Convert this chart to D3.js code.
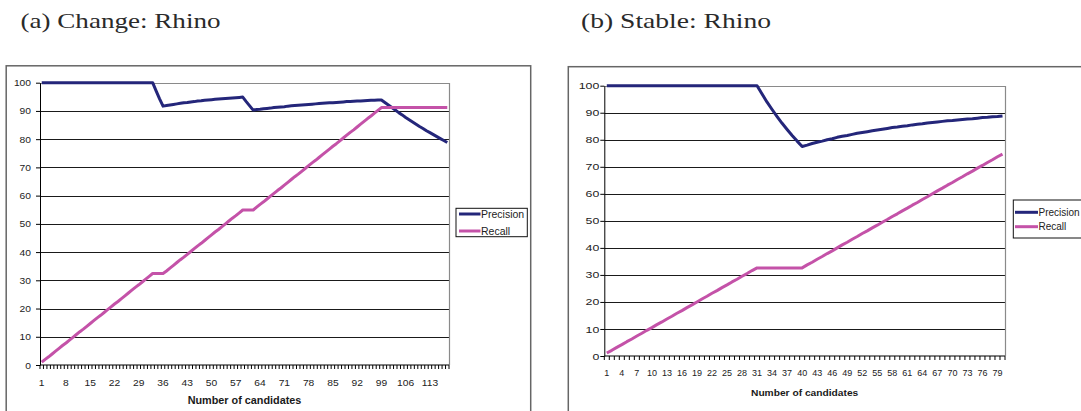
<!DOCTYPE html>
<html>
<head>
<meta charset="utf-8">
<script src="https://cdn.jsdelivr.net/npm/d3@7"></script>
<style>
  body { margin: 0; background: #fff; }
  svg { display: block; }
</style>
</head>
<body>
<svg id="fig" width="1081" height="411"></svg>
<script>
// (a) Change: Rhino — precision / recall (%) per number of candidates
const changePrecision = [
  100, 100, 100, 100, 100, 100, 100, 100, 100, 100, 100,
  100, 100, 100, 100, 100, 100, 100, 100, 100, 100, 100,
  100, 100, 100, 100, 100, 100, 100, 100, 100, 100, 100,
  97.1, 94.3, 91.7,
  91.9, 92.1, 92.3, 92.5, 92.7, 92.9, 93.0, 93.2, 93.3, 93.5, 93.6, 93.8,
  93.9, 94.0, 94.1, 94.2, 94.3, 94.4, 94.5, 94.6, 94.7, 94.8, 94.9,
  93.3, 91.8, 90.3,
  90.5, 90.6, 90.8, 90.9, 91.0, 91.2, 91.3, 91.4, 91.5, 91.7, 91.8, 91.9,
  92.0, 92.1, 92.2, 92.3, 92.4, 92.5, 92.6, 92.7, 92.8, 92.9, 92.9, 93.0,
  93.1, 93.2, 93.3, 93.3, 93.4, 93.5, 93.5, 93.6, 93.7, 93.8, 93.8, 93.9, 93.9,
  93.0, 92.1, 91.2, 90.3, 89.4, 88.6, 87.7, 86.9, 86.1, 85.3,
  84.5, 83.8, 83.0, 82.3, 81.6, 80.9, 80.2, 79.5, 78.8
];
const changeRecall = [
  1.0, 2.0, 2.9, 3.9, 4.9, 5.9, 6.9, 7.8, 8.8, 9.8, 10.8,
  11.8, 12.7, 13.7, 14.7, 15.7, 16.7, 17.6, 18.6, 19.6, 20.6, 21.6,
  22.5, 23.5, 24.5, 25.5, 26.5, 27.5, 28.4, 29.4, 30.4, 31.4, 32.4,
  32.4, 32.4, 32.4,
  33.3, 34.3, 35.3, 36.3, 37.3, 38.2, 39.2, 40.2, 41.2, 42.2, 43.1, 44.1,
  45.1, 46.1, 47.1, 48.0, 49.0, 50.0, 51.0, 52.0, 52.9, 53.9, 54.9,
  54.9, 54.9, 54.9,
  55.9, 56.9, 57.8, 58.8, 59.8, 60.8, 61.8, 62.7, 63.7, 64.7, 65.7, 66.7,
  67.6, 68.6, 69.6, 70.6, 71.6, 72.5, 73.5, 74.5, 75.5, 76.5, 77.5, 78.4,
  79.4, 80.4, 81.4, 82.4, 83.3, 84.3, 85.3, 86.3, 87.3, 88.2, 89.2, 90.2, 91.2,
  91.2, 91.2, 91.2, 91.2, 91.2, 91.2, 91.2, 91.2, 91.2, 91.2,
  91.2, 91.2, 91.2, 91.2, 91.2, 91.2, 91.2, 91.2, 91.2
];
const changeTickLabels = [1, 8, 15, 22, 29, 36, 43, 50, 57, 64, 71, 78, 85, 92, 99, 106, 113];

// (b) Stable: Rhino
const stablePrecision = [
  100, 100, 100, 100, 100, 100, 100, 100, 100, 100,
  100, 100, 100, 100, 100, 100, 100, 100, 100, 100,
  100, 100, 100, 100, 100, 100, 100, 100, 100, 100, 100,
  96.9, 93.9, 91.2, 88.6, 86.1, 83.8, 81.6, 79.5, 77.5,
  78.0, 78.6, 79.1, 79.5, 80.0, 80.4, 80.9, 81.3, 81.6, 82.0,
  82.4, 82.7, 83.0, 83.3, 83.6, 83.9, 84.2, 84.5, 84.7, 85.0,
  85.2, 85.5, 85.7, 85.9, 86.2, 86.4, 86.6, 86.8, 87.0, 87.1,
  87.3, 87.5, 87.7, 87.8, 88.0, 88.2, 88.3, 88.5, 88.6, 88.8
];
const stableRecall = [
  1.1, 2.1, 3.2, 4.2, 5.3, 6.3, 7.4, 8.4, 9.5, 10.5,
  11.6, 12.6, 13.7, 14.7, 15.8, 16.8, 17.9, 18.9, 20.0, 21.1,
  22.1, 23.2, 24.2, 25.3, 26.3, 27.4, 28.4, 29.5, 30.5, 31.6, 32.6,
  32.6, 32.6, 32.6, 32.6, 32.6, 32.6, 32.6, 32.6, 32.6,
  33.7, 34.7, 35.8, 36.8, 37.9, 38.9, 40.0, 41.1, 42.1, 43.2,
  44.2, 45.3, 46.3, 47.4, 48.4, 49.5, 50.5, 51.6, 52.6, 53.7,
  54.7, 55.8, 56.8, 57.9, 58.9, 60.0, 61.1, 62.1, 63.2, 64.2,
  65.3, 66.3, 67.4, 68.4, 69.5, 70.5, 71.6, 72.6, 73.7, 74.7
];
const stableTickLabels = [1, 4, 7, 10, 13, 16, 19, 22, 25, 28, 31, 34, 37, 40, 43, 46, 49, 52, 55, 58, 61, 64, 67, 70, 73, 76, 79];

const yTicks = [0, 10, 20, 30, 40, 50, 60, 70, 80, 90, 100];
const seriesNames = ["Precision", "Recall"];
const seriesColors = ["#24267a", "#c452a8"];
const xAxisTitle = "Number of candidates";

const SANS = "'Liberation Sans', Arial, sans-serif";
const SERIF = "'Liberation Serif', 'Times New Roman', serif";
const svg = d3.select("#fig");

// widen rendered text by factor k (the chart glyphs are set slightly wide)
function widen(sel, k) {
  sel.each(function () {
    const w = this.getComputedTextLength();
    if (w > 0 && k !== 1) {
      this.setAttribute("textLength", (w * k).toFixed(2));
      this.setAttribute("lengthAdjust", "spacingAndGlyphs");
    }
  });
}

function drawPanel(o) {
  const g = svg.append("g");

  // chart frame
  g.append("rect")
    .attr("x", o.frame.x).attr("y", o.frame.y)
    .attr("width", o.frame.w).attr("height", o.frame.h)
    .attr("fill", "#fff").attr("stroke", "#666").attr("stroke-width", 1.5);

  // sub-figure caption
  svg.append("text")
    .attr("x", o.caption.x).attr("y", o.caption.y)
    .attr("font-family", SERIF).attr("font-size", 22).attr("fill", "#2a2a2a")
    .attr("textLength", o.caption.len).attr("lengthAdjust", "spacingAndGlyphs")
    .text(o.caption.text);

  const categories = o.precision.map((_, i) => i + 1);
  const x = d3.scaleBand().domain(categories).range([o.plot.l, o.plot.r]).padding(0);
  const cx = c => x(c) + x.bandwidth() / 2;
  const y = d3.scaleLinear().domain([0, 100]).range([o.plot.b, o.plot.t]);

  // horizontal gridlines
  g.append("g").selectAll("line")
    .data(yTicks.filter(v => v > 0 && v < 100))
    .join("line")
    .attr("x1", o.plot.l).attr("x2", o.plot.r)
    .attr("y1", d => Math.round(y(d)) + 0.5).attr("y2", d => Math.round(y(d)) + 0.5)
    .attr("stroke", "#1a1a1a").attr("stroke-width", 1);

  // plot-area border (top and right)
  g.append("path")
    .attr("d", `M${o.plot.l},${Math.round(o.plot.t) + 0.5}H${Math.round(o.plot.r) + 0.5}V${o.plot.b}`)
    .attr("fill", "none").attr("stroke", "#8a8a8a").attr("stroke-width", 1.2);

  // value axis
  const yAxisG = g.append("g")
    .attr("transform", `translate(${o.plot.l},0)`)
    .call(d3.axisLeft(y).tickValues(yTicks).tickSize(4).tickSizeOuter(0).tickPadding(o.yPad));
  yAxisG.select(".domain").attr("stroke", "#000");
  yAxisG.selectAll(".tick line").attr("stroke", "#000");
  yAxisG.selectAll("text")
    .attr("font-family", SANS).attr("font-size", o.yFont).attr("fill", "#222");
  widen(yAxisG.selectAll("text"), o.yStretch);

  // category axis: minor ticks at every category boundary
  const bounds = categories.map(c => x(c)).concat([o.plot.r]);
  g.append("g").selectAll("line")
    .data(bounds)
    .join("line")
    .attr("x1", d => d).attr("x2", d => d)
    .attr("y1", o.plot.b).attr("y2", o.plot.b + 4)
    .attr("stroke", "#000").attr("stroke-width", 1);
  g.append("line")
    .attr("x1", o.plot.l).attr("x2", o.plot.r)
    .attr("y1", o.plot.b).attr("y2", o.plot.b)
    .attr("stroke", "#000").attr("stroke-width", 1.2);

  // category labels
  const xl = g.append("g").selectAll("text")
    .data(o.tickLabels)
    .join("text")
    .attr("x", d => cx(d)).attr("y", o.plot.b + o.xLabelDy)
    .attr("text-anchor", "middle")
    .attr("font-family", SANS).attr("font-size", o.xFont).attr("fill", "#222")
    .text(d => d);
  widen(xl, o.xStretch);

  // axis title
  g.append("text")
    .attr("x", (o.plot.l + o.plot.r) / 2).attr("y", o.title.y)
    .attr("text-anchor", "middle")
    .attr("font-family", SANS).attr("font-size", o.title.size).attr("font-weight", "bold")
    .attr("fill", "#1a1a1a")
    .attr("textLength", o.title.len).attr("lengthAdjust", "spacingAndGlyphs")
    .text(xAxisTitle);

  // series lines
  const line = d3.line().x((d, i) => cx(categories[i])).y(d => y(d));
  [o.precision, o.recall].forEach((vals, s) => {
    g.append("path")
      .datum(vals)
      .attr("d", line)
      .attr("fill", "none")
      .attr("stroke", seriesColors[s])
      .attr("stroke-width", 3)
      .attr("stroke-linejoin", "round");
  });

  // legend
  const L = o.legend;
  const lg = g.append("g");
  lg.append("rect")
    .attr("x", L.x).attr("y", L.y).attr("width", L.w).attr("height", L.h)
    .attr("fill", "#fff").attr("stroke", "#111").attr("stroke-width", 1);
  seriesNames.forEach((name, s) => {
    const ry = L.rows[s];
    lg.append("line")
      .attr("x1", L.lineX1).attr("x2", L.lineX2)
      .attr("y1", ry).attr("y2", ry)
      .attr("stroke", seriesColors[s]).attr("stroke-width", 3);
    lg.append("text")
      .attr("x", L.textX).attr("y", ry + L.font * 0.36)
      .attr("font-family", SANS).attr("font-size", L.font).attr("fill", "#222")
      .text(name);
  });
}

drawPanel({
  precision: changePrecision,
  recall: changeRecall,
  tickLabels: changeTickLabels,
  frame: { x: 6.2, y: 65.8, w: 524.5, h: 360 },
  caption: { text: "(a) Change: Rhino", x: 20.5, y: 28, len: 200 },
  plot: { l: 40, r: 449, t: 82.7, b: 365 },
  yFont: 9.5, yStretch: 1.08, yPad: 5,
  xFont: 9.5, xStretch: 1.08, xLabelDy: 20.5,
  title: { y: 404.4, size: 10.5, len: 113.7 },
  legend: { x: 456, y: 208.3, w: 71.3, h: 28.4, rows: [214, 231], lineX1: 459, lineX2: 480.5, textX: 481, font: 10.5 }
});

drawPanel({
  precision: stablePrecision,
  recall: stableRecall,
  tickLabels: stableTickLabels,
  frame: { x: 568.3, y: 66.7, w: 600, h: 360 },
  caption: { text: "(b) Stable: Rhino", x: 581, y: 28, len: 190 },
  plot: { l: 604.3, r: 1005, t: 85.7, b: 356 },
  yFont: 9.5, yStretch: 1.3, yPad: 1,
  xFont: 9, xStretch: 1.0, xLabelDy: 19.5,
  title: { y: 395.7, size: 9.5, len: 107.3 },
  legend: { x: 1013.3, y: 200, w: 80, h: 38, rows: [212.3, 226.7], lineX1: 1015, lineX2: 1038, textX: 1038.5, font: 10 }
});
</script>
</body>
</html>
